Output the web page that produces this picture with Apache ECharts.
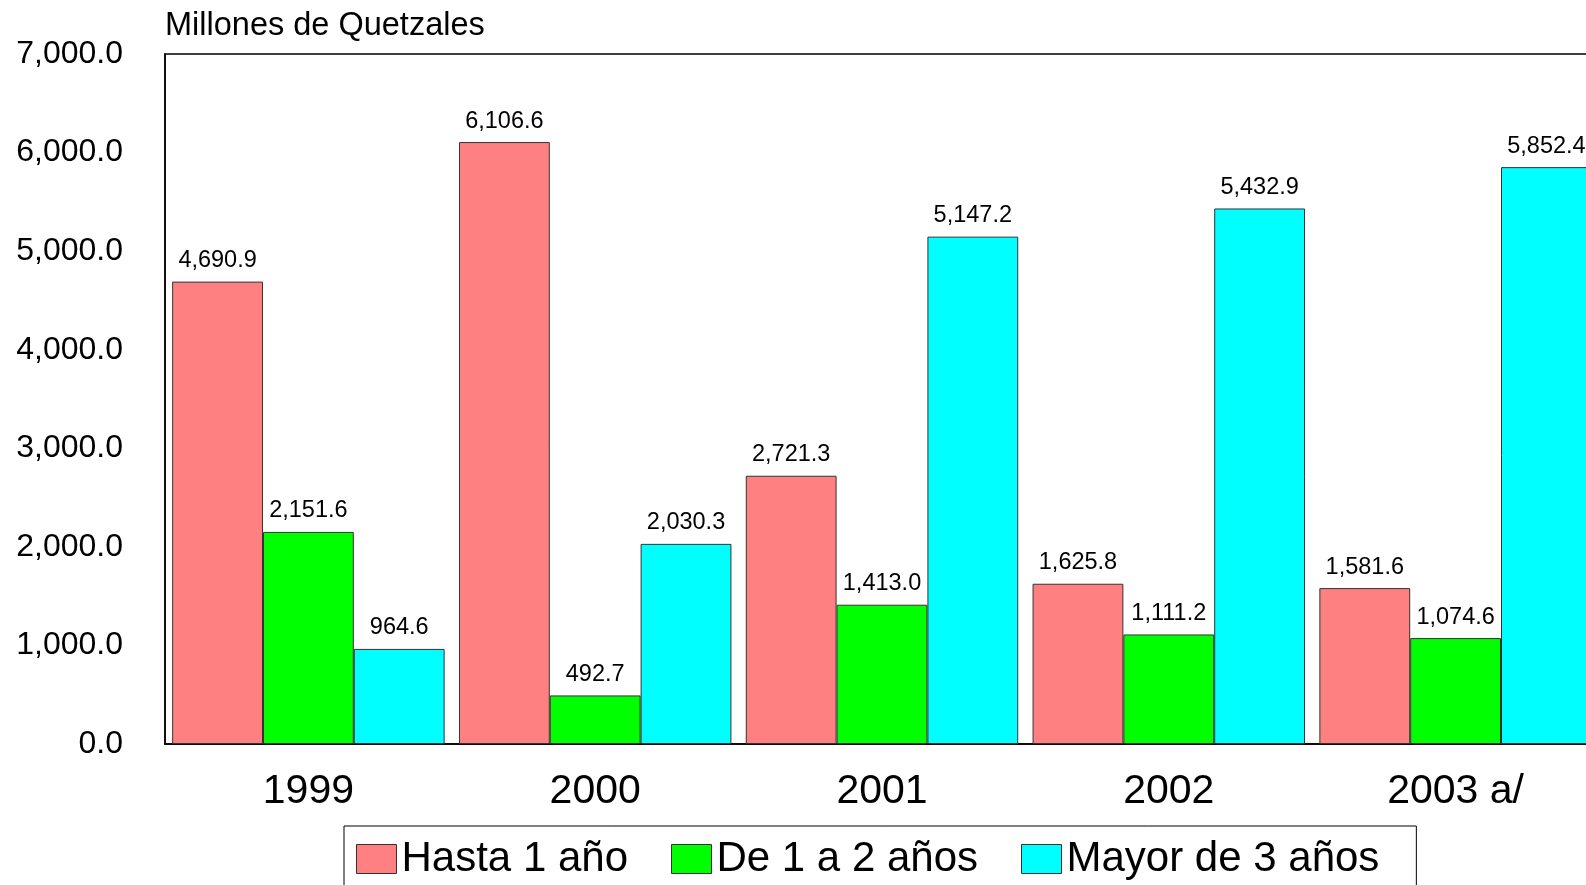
<!DOCTYPE html>
<html>
<head>
<meta charset="utf-8">
<script src="https://cdn.jsdelivr.net/npm/echarts@6/dist/echarts.min.js"></script>
<style>
  html, body { margin: 0; padding: 0; background: #fff; }
  #app { width: 1586px; height: 885px; }
</style>
</head>
<body>
<div id="app"></div>
<script>
// datos
const years = ['1999', '2000', '2001', '2002', '2003 a/'];
const hasta1 = [4690.9, 6106.6, 2721.3, 1625.8, 1581.6];
const de1a2 = [2151.6, 492.7, 1413.0, 1111.2, 1074.6];
const mayor3 = [964.6, 2030.3, 5147.2, 5432.9, 5852.4];
const seriesNames = ['Hasta 1 año', 'De 1 a 2 años', 'Mayor de 3 años'];
const colors = ['#FF8080', '#00FF00', '#00FFFF'];

const font = '"Liberation Sans", Arial, sans-serif';
const fmt = v => v.toLocaleString('en-US', { minimumFractionDigits: 1, maximumFractionDigits: 1 });

const chart = echarts.init(document.getElementById('app'));

const makeSeries = (name, data, i) => ({
  name: name,
  type: 'bar',
  data: data,
  barGap: '0%',
  barCategoryGap: '5%',
  itemStyle: { color: colors[i], borderColor: '#333', borderWidth: 1 },
  label: {
    show: true,
    position: 'top',
    distance: 9,
    color: '#000',
    fontFamily: font,
    fontSize: 23.5,
    formatter: p => fmt(p.value)
  }
});

const option = {
  animation: false,
  textStyle: { fontFamily: font },
  title: {
    text: 'Millones de Quetzales',
    left: 165,
    top: 10,
    padding: 0,
    textStyle: { fontFamily: font, fontSize: 32.5, fontWeight: 'normal', color: '#000' }
  },
  legend: {
    data: seriesNames,
    left: 344,
    top: 826,
    padding: [12, 37, 30, 12],
    itemGap: 43,
    itemWidth: 40,
    itemHeight: 29,
    borderColor: '#000',
    borderWidth: 1,
    icon: 'rect',
    itemStyle: { borderColor: '#333', borderWidth: 1 },
    textStyle: { fontFamily: font, fontSize: 42, color: '#000', padding: [4, 0, 0, 0] }
  },
  grid: {
    left: 165,
    top: 54,
    width: 1434,
    height: 690,
    outerBoundsMode: 'none',
    containLabel: false,
    show: true,
    borderColor: '#000',
    borderWidth: 1.5
  },
  xAxis: {
    type: 'category',
    data: years,
    axisLine: { lineStyle: { color: '#000', width: 1.5 } },
    axisTick: { show: false },
    axisLabel: { fontFamily: font, fontSize: 41, color: '#000', margin: 27 }
  },
  yAxis: {
    type: 'value',
    min: 0,
    max: 7000,
    interval: 1000,
    axisLine: { show: true, lineStyle: { color: '#000', width: 1.5 } },
    axisTick: { show: false },
    splitLine: { show: false },
    axisLabel: {
      fontFamily: font, fontSize: 32, color: '#000', margin: 42,
      padding: [8, 0, 0, 0],
      formatter: v => fmt(v)
    }
  },
  series: [
    makeSeries(seriesNames[0], hasta1, 0),
    makeSeries(seriesNames[1], de1a2, 1),
    makeSeries(seriesNames[2], mayor3, 2)
  ]
};

chart.setOption(option);
</script>
</body>
</html>
